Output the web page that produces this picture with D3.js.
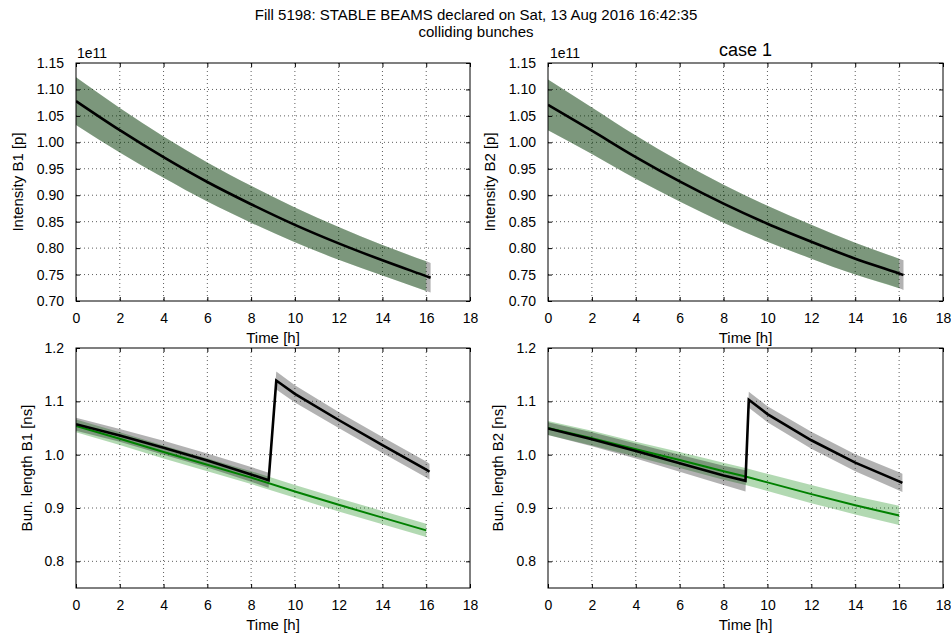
<!DOCTYPE html>
<html>
<head>
<meta charset="utf-8">
<script src="https://cdn.jsdelivr.net/npm/d3@7/dist/d3.min.js"></script>
<style>
  html, body { margin: 0; padding: 0; background: #fff; }
  svg { display: block; font-family: "Liberation Sans", Arial, sans-serif; }
</style>
</head>
<body>
<svg id="fig" width="951" height="638"></svg>
<script>
// ---- Figure text ----
const suptitleLines = ["Fill 5198: STABLE BEAMS declared on Sat, 13 Aug 2016 16:42:35", "colliding bunches"];
const caseTitle = "case 1";

// ---- Tick values ----
const timeTicks = [0, 2, 4, 6, 8, 10, 12, 14, 16, 18];
const intensityTicks = [0.70, 0.75, 0.80, 0.85, 0.90, 0.95, 1.00, 1.05, 1.10, 1.15];
const bunchLengthTicks = [0.8, 0.9, 1.0, 1.1, 1.2];

// ---- Intensity (units of 1e11 p) ----
const intTimeData  = [0, 2, 4, 6, 8, 10, 12, 14, 16, 16.2];
const intB1Data    = [1.078, 1.023, 0.972, 0.925, 0.883, 0.844, 0.809, 0.777, 0.747, 0.744];
const intB1DataErr = [0.045, 0.042, 0.039, 0.037, 0.035, 0.033, 0.031, 0.029, 0.028, 0.028];
const intB2Data    = [1.071, 1.022, 0.972, 0.926, 0.884, 0.846, 0.812, 0.780, 0.752, 0.749];
const intB2DataErr = [0.048, 0.044, 0.041, 0.038, 0.036, 0.034, 0.032, 0.030, 0.028, 0.028];

const intTimeModel  = [0, 2, 4, 6, 8, 10, 12, 14, 16];
const intB1Model    = [1.078, 1.023, 0.972, 0.925, 0.883, 0.844, 0.809, 0.777, 0.747];
const intB1ModelErr = [0.045, 0.042, 0.039, 0.037, 0.035, 0.033, 0.031, 0.029, 0.028];
const intB2Model    = [1.071, 1.022, 0.972, 0.926, 0.884, 0.846, 0.812, 0.780, 0.752];
const intB2ModelErr = [0.048, 0.044, 0.041, 0.038, 0.036, 0.034, 0.032, 0.030, 0.028];

// ---- Bunch length [ns] ----
const blTimeB1Data = [0, 2, 4, 6, 8, 8.8, 9.15, 10, 12, 14, 16, 16.15];
const blB1Data     = [1.057, 1.036, 1.013, 0.989, 0.963, 0.952, 1.139, 1.114, 1.065, 1.018, 0.972, 0.968];
const blB1DataErr  = [0.012, 0.012, 0.013, 0.013, 0.014, 0.014, 0.017, 0.016, 0.015, 0.015, 0.015, 0.015];
const blTimeB1Model = [0, 2, 4, 6, 8, 10, 12, 14, 16];
const blB1Model     = [1.054, 1.030, 1.005, 0.981, 0.957, 0.931, 0.906, 0.882, 0.858];
const blB1ModelErr  = [0.012, 0.012, 0.012, 0.012, 0.012, 0.012, 0.0125, 0.0125, 0.0125];

const blTimeB2Data = [0, 2, 4, 6, 8, 9.0, 9.15, 10, 12, 14, 16, 16.15];
const blB2Data     = [1.049, 1.029, 1.007, 0.984, 0.961, 0.951, 1.103, 1.076, 1.027, 0.985, 0.950, 0.947];
const blB2DataErr  = [0.012, 0.013, 0.014, 0.016, 0.018, 0.020, 0.015, 0.015, 0.016, 0.016, 0.017, 0.017];
const blTimeB2Model = [0, 2, 4, 6, 8, 9, 10, 12, 14, 16];
const blB2Model     = [1.050, 1.031, 1.010, 0.990, 0.969, 0.959, 0.948, 0.926, 0.905, 0.886];
const blB2ModelErr  = [0.013, 0.014, 0.014, 0.015, 0.016, 0.016, 0.016, 0.017, 0.017, 0.018];

// ---- Styling ----
const FONT_TICK = 14, FONT_LABEL = 15, FONT_SUPTITLE = 15, FONT_TITLE = 18;
const zip = (t, v, e) => t.map((x, i) => ({ t: x, v: v[i], e: e[i] }));

const svg = d3.select("#fig");

svg.append("text").attr("x", 476).attr("y", 20).attr("text-anchor", "middle")
  .attr("font-size", FONT_SUPTITLE).text(suptitleLines[0]);
svg.append("text").attr("x", 476).attr("y", 37).attr("text-anchor", "middle")
  .attr("font-size", FONT_SUPTITLE).text(suptitleLines[1]);

function panel(cfg) {
  const { x0, x1, y0, y1, yDomain, yTicks, yFmt, yLabel, xLabel, series, smooth } = cfg;
  const x = d3.scaleLinear().domain([0, 18]).range([x0, x1]);
  const y = d3.scaleLinear().domain(yDomain).range([y1, y0]);
  const g = svg.append("g");
  const clipId = "clip" + Math.round(x0) + "_" + Math.round(y0);
  g.append("clipPath").attr("id", clipId).append("rect")
    .attr("x", x0).attr("y", y0).attr("width", x1 - x0).attr("height", y1 - y0);

  // dotted grid
  const grid = g.append("g").attr("stroke", "#333").attr("stroke-width", 0.8)
    .attr("stroke-dasharray", "1,3");
  grid.selectAll(".gx").data(timeTicks.slice(1, -1)).join("line")
    .attr("x1", d => x(d)).attr("x2", d => x(d)).attr("y1", y0).attr("y2", y1);
  grid.selectAll(".gy").data(yTicks.filter(d => y(d) > y0 + 0.5 && y(d) < y1 - 0.5)).join("line")
    .attr("x1", x0).attr("x2", x1).attr("y1", d => y(d)).attr("y2", d => y(d));

  const curve = smooth ? d3.curveMonotoneX : d3.curveLinear;
  const area = d3.area().x(d => x(d.t)).y0(d => y(d.v - d.e)).y1(d => y(d.v + d.e)).curve(curve);
  const line = d3.line().x(d => x(d.t)).y(d => y(d.v)).curve(curve);
  const plot = g.append("g").attr("clip-path", `url(#${clipId})`);

  series.forEach(s => {
    plot.append("path").datum(s.data).attr("d", area)
      .attr("fill", s.band).attr("fill-opacity", s.bandOpacity).attr("stroke", "none");
  });
  series.forEach(s => {
    if (s.line) {
      plot.append("path").datum(s.data).attr("d", line)
        .attr("fill", "none").attr("stroke", s.line).attr("stroke-width", s.lineWidth)
        .attr("stroke-linejoin", "miter");
    }
  });

  // axes with inward ticks on all four sides
  const ax = g.append("g");
  ax.append("g").attr("transform", `translate(0,${y1})`)
    .call(d3.axisBottom(x).tickValues(timeTicks).tickSize(-4).tickPadding(12).tickFormat(d3.format("d")));
  ax.append("g").attr("transform", `translate(0,${y0})`)
    .call(d3.axisTop(x).tickValues(timeTicks).tickSize(-4).tickFormat(""));
  ax.append("g").attr("transform", `translate(${x0},0)`)
    .call(d3.axisLeft(y).tickValues(yTicks).tickSize(-4).tickPadding(12).tickFormat(d3.format(yFmt)));
  ax.append("g").attr("transform", `translate(${x1},0)`)
    .call(d3.axisRight(y).tickValues(yTicks).tickSize(-4).tickFormat(""));
  ax.selectAll(".domain").remove();
  ax.selectAll("text").attr("fill", "#000").attr("font-size", FONT_TICK)
    .attr("font-family", "Liberation Sans, Arial, sans-serif");
  ax.selectAll("line").attr("stroke", "#000");

  g.append("rect").attr("x", x0).attr("y", y0).attr("width", x1 - x0).attr("height", y1 - y0)
    .attr("fill", "none").attr("stroke", "#000").attr("stroke-width", 1);

  g.append("text").attr("x", (x0 + x1) / 2).attr("y", y1 + 42).attr("text-anchor", "middle")
    .attr("font-size", FONT_LABEL).text(xLabel);
  g.append("text").attr("transform", `translate(${x0 - cfg.ylabOff},${(y0 + y1) / 2}) rotate(-90)`)
    .attr("text-anchor", "middle").attr("font-size", FONT_LABEL).text(yLabel);
  return { x, y };
}

const greenBand = "#008000", greyBand = "#000000";

const topCfg = { y0: 63, y1: 301, yDomain: [0.70, 1.15], yTicks: intensityTicks, yFmt: ".2f",
  xLabel: "Time [h]", smooth: true, ylabOff: 53 };
const botCfg = { y0: 348, y1: 588, yDomain: [0.75, 1.2], yTicks: bunchLengthTicks, yFmt: ".1f",
  xLabel: "Time [h]", smooth: false, ylabOff: 44 };

panel(Object.assign({}, topCfg, { x0: 76, x1: 470, yLabel: "Intensity B1 [p]",
  series: [
    { data: zip(intTimeModel, intB1Model, intB1ModelErr), band: greenBand, bandOpacity: 0.3 },
    { data: zip(intTimeData, intB1Data, intB1DataErr), band: greyBand, bandOpacity: 0.3, line: "#000", lineWidth: 2.6 }
  ] }));
panel(Object.assign({}, topCfg, { x0: 548, x1: 943, ylabOff: 53, yLabel: "Intensity B2 [p]",
  series: [
    { data: zip(intTimeModel, intB2Model, intB2ModelErr), band: greenBand, bandOpacity: 0.3 },
    { data: zip(intTimeData, intB2Data, intB2DataErr), band: greyBand, bandOpacity: 0.3, line: "#000", lineWidth: 2.6 }
  ] }));
panel(Object.assign({}, botCfg, { x0: 76, x1: 470, yLabel: "Bun. length B1 [ns]",
  series: [
    { data: zip(blTimeB1Model, blB1Model, blB1ModelErr), band: greenBand, bandOpacity: 0.3, line: "#008000", lineWidth: 2 },
    { data: zip(blTimeB1Data, blB1Data, blB1DataErr), band: greyBand, bandOpacity: 0.3, line: "#000", lineWidth: 2.6 }
  ] }));
panel(Object.assign({}, botCfg, { x0: 548, x1: 943, ylabOff: 45, yLabel: "Bun. length B2 [ns]",
  series: [
    { data: zip(blTimeB2Model, blB2Model, blB2ModelErr), band: greenBand, bandOpacity: 0.3, line: "#008000", lineWidth: 2 },
    { data: zip(blTimeB2Data, blB2Data, blB2DataErr), band: greyBand, bandOpacity: 0.3, line: "#000", lineWidth: 2.6 }
  ] }));

// scale factor annotations and subplot title
svg.append("text").attr("x", 77).attr("y", 58).attr("font-size", FONT_TICK).text("1e11");
svg.append("text").attr("x", 550).attr("y", 58).attr("font-size", FONT_TICK).text("1e11");
svg.append("text").attr("x", 745.5).attr("y", 56).attr("text-anchor", "middle")
  .attr("font-size", FONT_TITLE).text(caseTitle);
</script>
</body>
</html>
